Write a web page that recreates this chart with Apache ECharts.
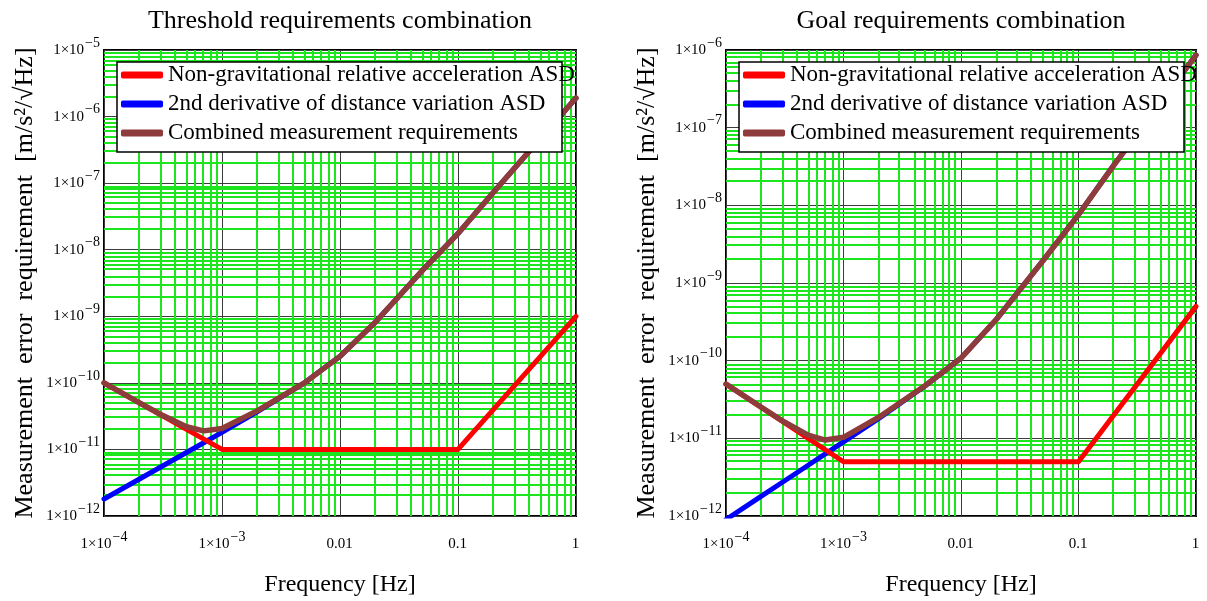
<!DOCTYPE html>
<html>
<head>
<meta charset="utf-8">
<script src="https://cdn.jsdelivr.net/npm/echarts@6/dist/echarts.min.js"></script>
<style>
  html, body { margin: 0; padding: 0; background: #fff; }
  #main { width: 1207px; height: 601px; }
</style>
</head>
<body>
<div id="main"></div>
<script>
// Frequencies (Hz) at which the distance-variation and combined curves are sampled
const freq = [1e-4, 2e-4, 3e-4, 5e-4, 7e-4, 1e-3, 2e-3, 5e-3, 1e-2, 2e-2, 5e-2, 0.1, 0.2, 0.5, 1];
// Break points of the piecewise non-gravitational acceleration spectrum
const cornerFreq = [1e-4, 1e-3, 0.1, 1];

// Threshold requirements (m/s^2/sqrt(Hz))
const thrNonGrav = [1e-10, 1e-11, 1e-11, 1e-9];
const thrDistance = [1.8e-12, 3.6e-12, 5.4e-12, 9.0e-12, 1.26e-11, 1.8e-11, 3.7e-11, 1.0e-10, 2.5e-10, 8.2e-10, 4.9e-9, 1.75e-8, 7.3e-8, 4.7e-7, 1.9e-6];
const thrCombined = [1.0e-10, 5.0e-11, 3.38e-11, 2.19e-11, 1.9e-11, 2.06e-11, 3.83e-11, 1.0e-10, 2.5e-10, 8.2e-10, 4.9e-9, 1.75e-8, 7.3e-8, 4.7e-7, 1.9e-6];

// Goal requirements (m/s^2/sqrt(Hz))
const goalNonGrav = [5e-11, 5e-12, 5e-12, 5e-10];
const goalDistance = [9.0e-13, 1.8e-12, 2.7e-12, 4.5e-12, 6.3e-12, 9.0e-12, 1.8e-11, 4.8e-11, 1.08e-10, 3.4e-10, 1.95e-9, 7.6e-9, 3.3e-8, 2.1e-7, 8.6e-7];
const goalCombined = [5.0e-11, 2.51e-11, 1.69e-11, 1.1e-11, 9.5e-12, 1.03e-11, 1.87e-11, 4.83e-11, 1.08e-10, 3.4e-10, 1.95e-9, 7.6e-9, 3.3e-8, 2.1e-7, 8.6e-7];

// Axis ticks and their labels ("base|exponent" for powers of ten)
const xTicks = [1e-4, 1e-3, 0.01, 0.1, 1];
const xTickText = ['1×10|−4', '1×10|−3', '0.01', '0.1', '1'];
const thrYTicks = [1e-12, 1e-11, 1e-10, 1e-9, 1e-8, 1e-7, 1e-6, 1e-5];
const goalYTicks = [1e-12, 1e-11, 1e-10, 1e-9, 1e-8, 1e-7, 1e-6];
const yTickText = ['1×10|−12', '1×10|−11', '1×10|−10', '1×10|−9', '1×10|−8', '1×10|−7', '1×10|−6', '1×10|−5'];

const seriesNames = ['Non-gravitational relative acceleration ASD', '2nd derivative of distance variation ASD', 'Combined measurement requirements'];
const colors = ['#ff0000', '#0000ff', '#8e3b3b'];
const titles = ['Threshold requirements combination', 'Goal requirements combination'];
const yName = 'Measurement  error  requirement  [m/s²/√Hz]';
const xName = 'Frequency [Hz]';

const FONT = '"Liberation Serif", "Times New Roman", serif';
const grids = [
  { left: 104, top: 50, width: 472, height: 466 },
  { left: 726, top: 50, width: 470, height: 466 }
];

function tickLabel(ticks, texts) {
  return function (v) {
    for (let i = 0; i < ticks.length; i++) {
      if (Math.abs(Math.log10(v) - Math.log10(ticks[i])) < 1e-6) {
        const t = texts[i].split('|');
        // an empty exponent keeps plain labels on the same baseline
        return '{b|' + t[0] + '}{e|' + (t.length > 1 ? t[1] : '\u200b') + '}';
      }
    }
    return '';
  };
}
const labelRich = {
  b: { fontFamily: FONT, fontSize: 15, color: '#000' },
  e: { fontFamily: FONT, fontSize: 14, color: '#000', padding: [0, 0, 14, 1] }
};

// minor grid values 2..9 within each decade
function minorValues(lo, hi) {
  const out = [];
  for (let d = lo; d < hi; d++) {
    for (let m = 2; m <= 9; m++) out.push(m * Math.pow(10, d));
  }
  return out;
}

function pairs(xs, ys) { return xs.map((x, i) => [x, ys[i]]); }

const xRange = [-4, 0];
const yRanges = [[-12, -5], [-12, -6]];
const yTicksAll = [thrYTicks, goalYTicks];
const data = [
  [thrNonGrav, thrDistance, thrCombined],
  [goalNonGrav, goalDistance, goalCombined]
];

// one minor grid line, 2px wide and snapped to whole pixels;
// item = [x, y, 0 for vertical | 1 for horizontal]
function snap2(v) { return 2 * Math.round((v - 1) / 2) + 1; }
function minorGridItem(params, api) {
  const cs = params.coordSys;
  const p = api.coord([api.value(0), api.value(1)]);
  let shape;
  if (api.value(2) === 0) {
    const x = snap2(p[0]);
    shape = { x1: x, y1: cs.y, x2: x, y2: cs.y + cs.height };
  } else {
    const y = snap2(p[1]);
    shape = { x1: cs.x, y1: y, x2: cs.x + cs.width, y2: y };
  }
  return { type: 'line', shape, style: { stroke: '#1ee61e', lineWidth: 2 }, silent: true };
}

const xAxis = [], yAxis = [], series = [], legend = [], graphic = [];
for (let g = 0; g < 2; g++) {
  const x0 = Math.pow(10, xRange[0]), x1 = Math.pow(10, xRange[1]);
  const y0 = Math.pow(10, yRanges[g][0]), y1 = Math.pow(10, yRanges[g][1]);
  xAxis.push({
    type: 'log', logBase: 10, gridIndex: g, min: x0, max: x1, splitNumber: 4,
    axisLine: { show: false }, axisTick: { show: false },
    axisLabel: { margin: 14, formatter: tickLabel(xTicks, xTickText), rich: labelRich, showMinLabel: true, showMaxLabel: true },
    splitLine: { show: true, lineStyle: { color: '#3c3c3c', width: 1 } }
  });
  yAxis.push({
    type: 'log', logBase: 10, gridIndex: g, min: y0, max: y1,
    splitNumber: yRanges[g][1] - yRanges[g][0],
    axisLine: { show: false }, axisTick: { show: false },
    axisLabel: { margin: 4, formatter: tickLabel(yTicksAll[g], yTickText.slice(0, yTicksAll[g].length)), rich: labelRich, showMinLabel: true, showMaxLabel: true },
    splitLine: { show: true, lineStyle: { color: '#3c3c3c', width: 1 } }
  });

  // green minor grid, positioned through the axes' own scales
  const gridItems = minorValues(xRange[0], xRange[1]).map(v => [v, y0, 0])
    .concat(minorValues(yRanges[g][0], yRanges[g][1]).map(v => [x0, v, 1]));
  series.push({
    type: 'custom', xAxisIndex: g, yAxisIndex: g, data: gridItems,
    renderItem: minorGridItem, silent: true, z: 1, animation: false,
    encode: { x: 0, y: 1 }, clip: false
  });

  const xs = [cornerFreq, freq, freq];
  const zs = [4, 3, 5];
  for (let s = 0; s < 3; s++) {
    series.push({
      name: seriesNames[s], type: 'line', xAxisIndex: g, yAxisIndex: g,
      data: pairs(xs[s], data[g][s]), showSymbol: false, symbol: 'none', z: zs[s],
      color: colors[s],
      lineStyle: { color: colors[s], width: s === 2 ? 5.5 : 5, cap: 'round', join: 'round' },
      emphasis: { disabled: true }, animation: false
    });
  }

  const gx = grids[g].left, gw = grids[g].width;
  legend.push({
    orient: 'vertical', left: gx + 17, top: 63, padding: 0, itemGap: 5,
    icon: 'roundRect', itemWidth: 42, itemHeight: 7, selectedMode: false,
    data: seriesNames, z: 12,
    textStyle: { fontFamily: FONT, fontSize: 23, color: '#000', lineHeight: 24 }
  });
  graphic.push({
    type: 'rect', z: 10, silent: true,
    shape: { x: gx + 13, y: 62, width: 445, height: 90 },
    style: { fill: '#fff', stroke: '#000', lineWidth: 1.5 }
  });
  graphic.push({
    type: 'text', x: gx + gw / 2, y: 21, z: 10,
    style: { text: titles[g], font: '26px ' + FONT, fill: '#000', textAlign: 'center', textVerticalAlign: 'middle' }
  });
  graphic.push({
    type: 'text', x: gx + gw / 2, y: 585, z: 10,
    style: { text: xName, font: '24px ' + FONT, fill: '#000', textAlign: 'center', textVerticalAlign: 'middle' }
  });
  graphic.push({
    type: 'text', x: gx - 79, y: 283, z: 10, rotation: Math.PI / 2,
    style: { text: yName, font: '26px ' + FONT, fill: '#000', textAlign: 'center', textVerticalAlign: 'middle' }
  });
}

const chart = echarts.init(document.getElementById('main'), null, { renderer: 'canvas' });
chart.setOption({
  animation: false,
  backgroundColor: '#fff',
  grid: grids.map(gr => Object.assign({ show: true, borderColor: '#000', borderWidth: 2, backgroundColor: '#fff', containLabel: false }, gr)),
  xAxis, yAxis, series, legend, graphic
});
</script>
</body>
</html>
